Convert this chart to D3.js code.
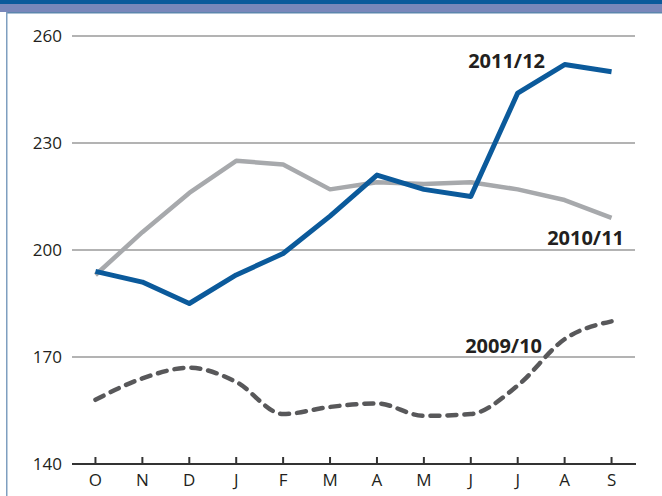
<!DOCTYPE html>
<meta charset="utf-8">
<style>
body { margin: 0; background: #fff; }
text { font-family: "Open Sans", "Noto Sans", sans-serif; fill: #231f20; }
.grid line { stroke: #9a9a9a; stroke-width: 1.5px; }
</style>
<svg width="662" height="496"></svg>
<script src="https://cdn.jsdelivr.net/npm/d3@7"></script>
<script>
var months = ["O","N","D","J","F","M","A","M","J","J","A","S"];
var yTicks = [140, 170, 200, 230, 260];
var s0910 = [158, 164, 167, 163, 154, 156, 157, 153.5, 154, 162, 175, 180];
var s1011 = [193, 205, 216, 225, 224, 217, 219, 218.5, 219, 217, 214, 209];
var s1112 = [194, 191, 185, 193, 199, 209.5, 221, 217, 215, 244, 252, 250];

var svg = d3.select("svg");

// header bands and frame
svg.append("rect").attr("x", 0).attr("y", 0).attr("width", 662).attr("height", 4).attr("fill", "#0b5a9b");
svg.append("rect").attr("x", 0).attr("y", 4).attr("width", 662).attr("height", 8).attr("fill", "#7987ba");
svg.append("rect").attr("x", 6).attr("y", 12).attr("width", 656).attr("height", 1.5).attr("fill", "#5d86ad");
svg.append("rect").attr("x", 6).attr("y", 12).attr("width", 1.5).attr("height", 484).attr("fill", "#7f9fc0");

var x = d3.scaleBand().domain(d3.range(12)).range([72, 635]);
var y = d3.scaleLinear().domain([140, 260]).range([464, 36]);
var cx = function(i) { return x(i) + x.bandwidth() / 2; };

// gridlines
svg.append("g").attr("class", "grid")
  .selectAll("line").data(yTicks.slice(1)).enter().append("line")
  .attr("x1", 72).attr("x2", 635)
  .attr("y1", function(d) { return y(d); }).attr("y2", function(d) { return y(d); });

// y labels
svg.append("g").selectAll("text").data(yTicks).enter().append("text")
  .attr("x", 62).attr("y", function(d) { return y(d); }).attr("dy", "0.35em")
  .attr("text-anchor", "end").style("font-size", "17px")
  .text(function(d) { return d; });

// x axis
var xAxis = d3.axisBottom(x).tickSize(0).tickFormat(function(i) { return months[i]; });
var gx = svg.append("g").attr("transform", "translate(0,464)").call(xAxis);
gx.select(".domain").remove();
gx.selectAll("text").attr("dy", 0).attr("y", 22).style("font-size", "17px").style("fill", "#231f20");
svg.append("line").attr("x1", 72).attr("x2", 636).attr("y1", 464).attr("y2", 464)
  .attr("stroke", "#333").attr("stroke-width", 2.2);
svg.append("g").selectAll("line").data(d3.range(12)).enter().append("line")
  .attr("x1", cx).attr("x2", cx).attr("y1", 457).attr("y2", 464)
  .attr("stroke", "#333").attr("stroke-width", 2);

var line = d3.line().x(function(d, i) { return cx(i); }).y(function(d) { return y(d); });
var smooth = d3.line().x(function(d, i) { return cx(i); }).y(function(d) { return y(d); }).curve(d3.curveMonotoneX);

svg.append("path").datum(s0910).attr("d", smooth).attr("fill", "none")
  .attr("stroke", "#58585a").attr("stroke-width", 4.5)
  .attr("stroke-dasharray", "9,8").attr("stroke-linecap", "round");
svg.append("path").datum(s1011).attr("d", line).attr("fill", "none")
  .attr("stroke", "#a7a9ac").attr("stroke-width", 4.5).attr("stroke-linejoin", "round");
svg.append("path").datum(s1112).attr("d", line).attr("fill", "none")
  .attr("stroke", "#0b5a9b").attr("stroke-width", 5).attr("stroke-linejoin", "round");

// series labels
var labels = [
  {t: "2011/12", x: 545, y: 68},
  {t: "2010/11", x: 624, y: 245},
  {t: "2009/10", x: 542, y: 353}
];
svg.append("g").selectAll("text").data(labels).enter().append("text")
  .attr("x", function(d) { return d.x; }).attr("y", function(d) { return d.y; })
  .attr("text-anchor", "end").style("font-size", "20px").style("font-weight", "bold")
  .text(function(d) { return d.t; });
</script>
